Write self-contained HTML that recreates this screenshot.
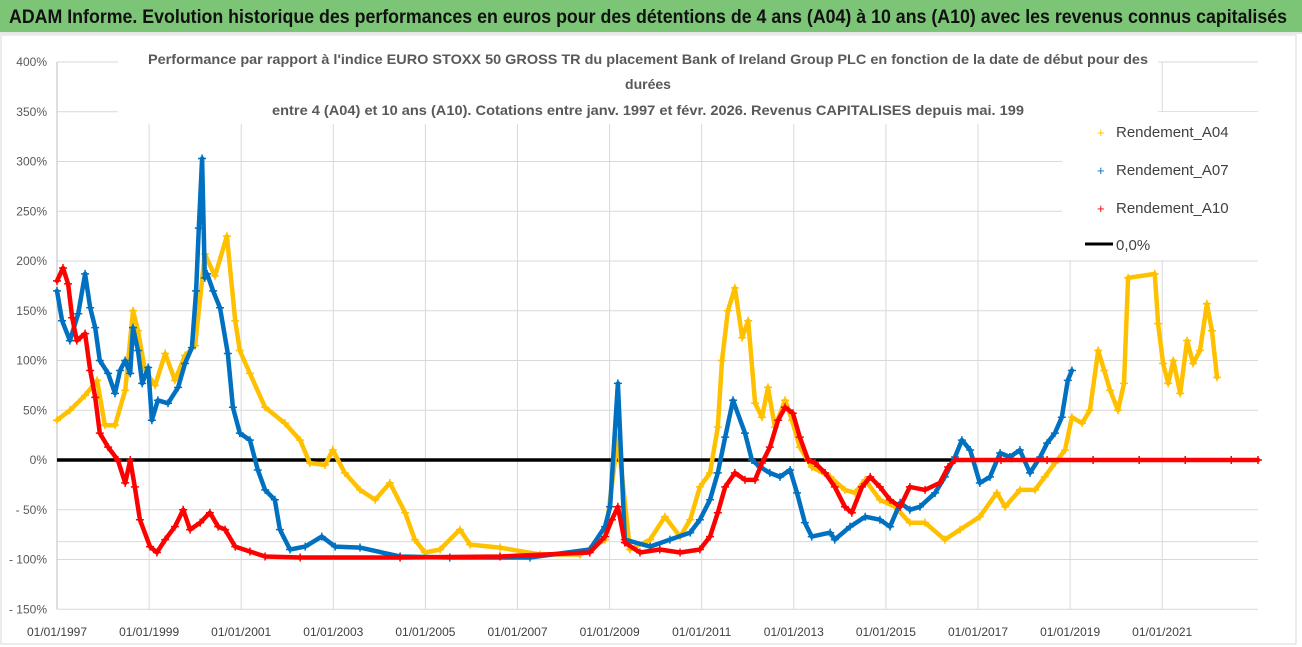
<!DOCTYPE html>
<html><head><meta charset="utf-8">
<style>
html,body{margin:0;padding:0;background:#fff;}
body{width:1302px;height:647px;overflow:hidden;font-family:"Liberation Sans",sans-serif;}
#hdr{position:absolute;left:0;top:0;width:1302px;height:32px;background:#7cc576;border-bottom:2px solid #e6e6e6;}
svg{position:absolute;left:0;top:0;}
#hdr svg{position:absolute;left:0;top:0;}
</style></head><body>
<div id="hdr"><svg width="1302" height="32"><text x="9" y="23" font-family="Liberation Sans, sans-serif" font-size="19" font-weight="bold" fill="#111" textLength="1278" lengthAdjust="spacingAndGlyphs">ADAM Informe. Evolution historique des performances en euros pour des détentions de 4 ans (A04) à 10 ans (A10) avec les revenus connus capitalisés</text></svg></div>
<svg id="chart" width="1302" height="647">
<rect x="1" y="35" width="1295" height="609" fill="none" stroke="#d9d9d9"/>
<g id="grid"></g>
<g id="ylab"></g>
<g id="xlab"></g>
<g id="series"></g>
<rect x="1062" y="112" width="196" height="148" fill="#fff"/>
<rect x="118" y="44" width="1040" height="80" fill="#fff"/>
<g font-family="Liberation Sans, sans-serif" font-weight="bold" font-size="14" fill="#595959" text-anchor="middle">
<text x="648" y="64" textLength="1000" lengthAdjust="spacingAndGlyphs">Performance par rapport à l'indice EURO STOXX 50 GROSS TR  du placement Bank of Ireland Group PLC en fonction de la date de début pour des</text>
<text x="648" y="89">durées</text>
<text x="648" y="115" textLength="752" lengthAdjust="spacingAndGlyphs">entre 4 (A04) et 10 ans (A10). Cotations entre janv. 1997 et févr. 2026. Revenus CAPITALISES depuis mai. 199</text>
</g>
<g font-family="Liberation Sans, sans-serif" font-size="15" fill="#404040">
<g><text x="1097" y="137" fill="#ffc000" font-size="13">+</text><text x="1116" y="137">Rendement_A04</text></g>
<g><text x="1097" y="175" fill="#0070c0" font-size="13">+</text><text x="1116" y="175">Rendement_A07</text></g>
<g><text x="1097" y="213" fill="#ff0000" font-size="13">+</text><text x="1116" y="213">Rendement_A10</text></g>
<g><line x1="1085" y1="244" x2="1113" y2="244" stroke="#000" stroke-width="3"/><text x="1116" y="250">0,0%</text></g>
</g>
</svg>
<script>
const yTicks=[400,350,300,250,200,150,100,50,0,-50,-100,-150];
const yTickLabels=["400%","350%","300%","250%","200%","150%","100%","50%","0%","- 50%","- 100%","- 150%"];
const xTicks=[1997,1999,2001,2003,2005,2007,2009,2011,2013,2015,2017,2019,2021];
const xTickLabels=["01/01/1997","01/01/1999","01/01/2001","01/01/2003","01/01/2005","01/01/2007","01/01/2009","01/01/2011","01/01/2013","01/01/2015","01/01/2017","01/01/2019","01/01/2021"];
const datesA04=[1997.00,1997.28,1997.61,1997.87,1998.04,1998.26,1998.48,1998.65,1998.76,1998.91,1999.13,1999.35,1999.56,1999.78,2000.00,2000.21,2000.43,2000.69,2000.87,2000.97,2001.19,2001.52,2001.95,2002.28,2002.49,2002.82,2002.99,2003.25,2003.58,2003.91,2004.23,2004.56,2004.77,2004.99,2005.32,2005.75,2005.97,2006.62,2007.49,2008.36,2008.90,2009.18,2009.44,2009.88,2010.20,2010.53,2010.75,2010.96,2011.18,2011.35,2011.44,2011.57,2011.72,2011.88,2012.01,2012.16,2012.31,2012.44,2012.59,2012.81,2012.96,2013.13,2013.39,2013.79,2014.11,2014.33,2014.55,2014.87,2015.20,2015.52,2015.85,2016.28,2016.61,2017.04,2017.41,2017.59,2017.91,2018.24,2018.45,2018.67,2018.89,2019.04,2019.26,2019.43,2019.61,2019.74,2019.87,2020.04,2020.17,2020.26,2020.84,2020.91,2021.02,2021.13,2021.24,2021.39,2021.54,2021.67,2021.82,2021.97,2022.08,2022.19];
const valsA04=[40,50,65,80,35,35,70,150,130,90,75,107,80,105,115,207,185,225,140,110,87,53,37,20,-3,-5,10,-13,-30,-40,-23,-53,-80,-93,-90,-70,-85,-88,-95,-95,-80,23,-90,-80,-57,-77,-60,-27,-13,33,100,150,173,123,140,57,43,73,33,60,40,13,-7,-17,-30,-33,-20,-40,-47,-63,-63,-80,-70,-57,-33,-47,-30,-30,-17,-3,10,43,37,50,110,90,70,50,77,183,187,137,97,77,100,67,120,97,110,157,130,83];
const datesA07=[1997.00,1997.11,1997.28,1997.46,1997.61,1997.72,1997.83,1997.93,1998.11,1998.26,1998.37,1998.48,1998.59,1998.65,1998.76,1998.85,1998.98,1999.06,1999.19,1999.41,1999.63,1999.78,1999.93,2000.02,2000.08,2000.15,2000.21,2000.26,2000.39,2000.54,2000.71,2000.82,2000.97,2001.19,2001.36,2001.52,2001.73,2001.84,2002.06,2002.39,2002.75,2003.04,2003.58,2004.45,2005.53,2007.27,2008.57,2008.90,2009.01,2009.18,2009.33,2009.88,2010.31,2010.75,2010.96,2011.18,2011.35,2011.51,2011.68,2011.94,2012.09,2012.27,2012.48,2012.70,2012.92,2013.07,2013.24,2013.39,2013.79,2013.89,2014.22,2014.55,2014.87,2015.09,2015.31,2015.52,2015.74,2016.07,2016.28,2016.50,2016.65,2016.83,2017.04,2017.26,2017.48,2017.69,2017.91,2018.13,2018.35,2018.50,2018.67,2018.82,2018.95,2019.04];
const valsA07=[170,140,120,147,187,153,133,100,87,67,90,100,87,133,110,77,93,40,60,57,73,97,113,170,233,303,183,187,170,153,107,53,27,20,-10,-30,-40,-70,-90,-87,-77,-87,-88,-97,-98,-98,-90,-67,-47,77,-80,-87,-80,-73,-60,-40,-13,23,60,27,0,-7,-13,-17,-10,-33,-63,-77,-73,-80,-67,-57,-60,-67,-43,-50,-47,-33,-17,3,20,10,-23,-17,7,3,10,-13,3,17,27,43,80,90];
const datesA10=[1997.00,1997.13,1997.24,1997.33,1997.43,1997.61,1997.72,1997.83,1997.93,1998.11,1998.32,1998.48,1998.59,1998.69,1998.80,1999.02,1999.17,1999.35,1999.56,1999.74,1999.89,2000.11,2000.32,2000.50,2000.65,2000.87,2001.19,2001.52,2002.28,2004.45,2006.62,2008.57,2008.90,2009.05,2009.18,2009.33,2009.66,2010.09,2010.53,2010.96,2011.18,2011.35,2011.51,2011.72,2011.94,2012.16,2012.31,2012.48,2012.66,2012.81,2012.98,2013.13,2013.31,2013.46,2013.68,2013.89,2014.11,2014.26,2014.48,2014.66,2014.87,2015.09,2015.31,2015.52,2015.85,2016.17,2016.35,2016.50,2017.50,2018.50,2019.50,2020.50,2021.50,2022.50,2023.08];
const valsA10=[180,193,177,143,120,127,90,63,27,13,0,-23,0,-27,-60,-87,-93,-80,-67,-50,-70,-63,-53,-67,-70,-87,-92,-97,-98,-98,-97,-93,-77,-60,-47,-83,-93,-90,-93,-90,-77,-53,-27,-13,-20,-20,-3,13,40,53,47,23,0,-3,-13,-27,-47,-53,-27,-17,-27,-40,-47,-27,-30,-23,-7,0,0,0,0,0,0,0,0];

const NS="http://www.w3.org/2000/svg";
const X0=57,X1=1258,Y0=460,YK=0.995;
function xScale(t){return X0+(t-1997)*46.05;}
function yScale(v){return Y0-v*YK;}
function mk(tag,attrs,parent){const e=document.createElementNS(NS,tag);for(const k in attrs)e.setAttribute(k,attrs[k]);parent.appendChild(e);return e;}
const grid=document.getElementById('grid'),ylab=document.getElementById('ylab'),xlab=document.getElementById('xlab'),ser=document.getElementById('series');
yTicks.forEach((v,i)=>{
  if(v!==0){const l=mk('line',{x1:X0,x2:X1,y1:yScale(v),y2:yScale(v),stroke:'#d9d9d9','stroke-width':1},grid);
  
  }
  const t=mk('text',{x:47,y:yScale(v)+4,'text-anchor':'end','font-size':12,fill:'#595959','font-family':'Liberation Sans, sans-serif'},ylab);
  t.textContent=yTickLabels[i];
  
  
});
const extra=mk('line',{x1:X0,x2:X1,y1:yScale(-82),y2:yScale(-82),stroke:'#d9d9d9'},grid);


xTicks.forEach((t,i)=>{
  const x=xScale(t);
  const l=mk('line',{x1:x,x2:x,y1:yScale(400),y2:yScale(-150),stroke:i===0?'#bfbfbf':'#d9d9d9'},grid);
  
  
  const tx=mk('text',{x:x,y:636,'text-anchor':'middle','font-size':12,fill:'#404040','font-family':'Liberation Sans, sans-serif'},xlab);
  tx.textContent=xTickLabels[i];
  
  
});
function drawSeries(dates,vals,color,name){
  const g=mk('g',{},ser);
  
  
  const pts=dates.map((d,i)=>xScale(d).toFixed(1)+','+yScale(vals[i]).toFixed(1)).join(' ');
  mk('polyline',{points:pts,fill:'none',stroke:color,'stroke-width':4.5,'stroke-linejoin':'round','stroke-linecap':'round'},g);
  let d='';
  dates.forEach((t,i)=>{const x=xScale(t),y=yScale(vals[i]);d+=`M${x-4},${y}h8M${x},${y-4}v8`;});
  mk('path',{d:d,stroke:color,'stroke-width':1.5,fill:'none'},g);
}
drawSeries(datesA04,valsA04,'#ffc000','series-a04');
drawSeries(datesA07,valsA07,'#0070c0','series-a07');
drawSeries(datesA10,valsA10,'#ff0000','series-a10');
const z=mk('line',{x1:X0,x2:X1,y1:yScale(0),y2:yScale(0),stroke:'#000','stroke-width':3.5},ser);


ser.insertBefore(z,ser.firstChild);
</script>
</body></html>
